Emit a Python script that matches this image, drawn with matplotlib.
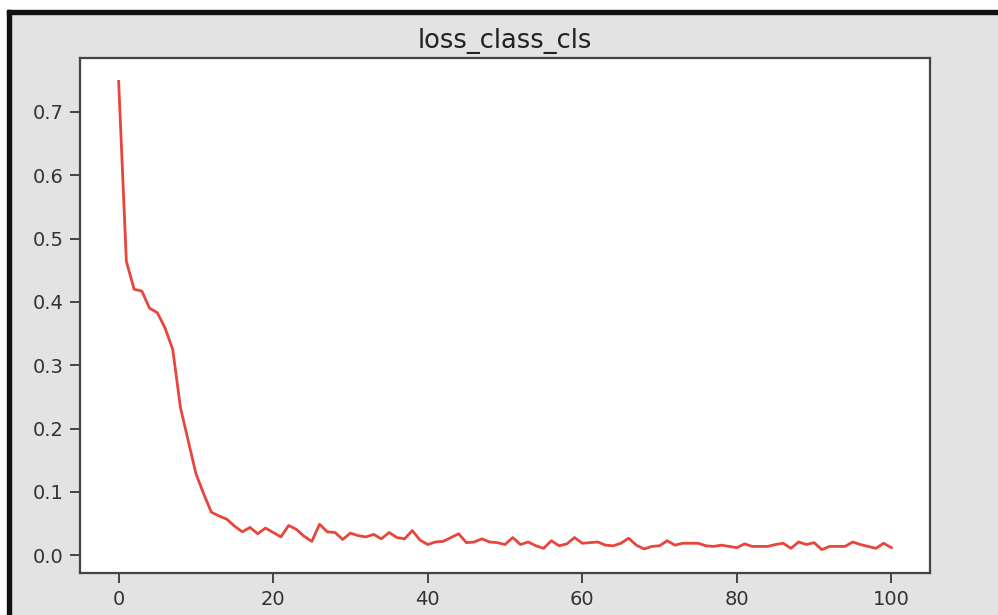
import numpy as np
import matplotlib
matplotlib.use("Agg")
import matplotlib.pyplot as plt
from matplotlib.patches import Rectangle

# loss values per epoch
loss_class_cls = [
    0.748, 0.464, 0.420, 0.417, 0.390, 0.383, 0.359, 0.325, 0.233, 0.181,
    0.129, 0.097, 0.068, 0.062, 0.057, 0.046, 0.037, 0.044, 0.034, 0.043,
    0.036, 0.029, 0.047, 0.041, 0.030, 0.022, 0.049, 0.037, 0.036, 0.025,
    0.035, 0.031, 0.029, 0.033, 0.026, 0.036, 0.028, 0.026, 0.039, 0.024,
    0.017, 0.021, 0.022, 0.028, 0.034, 0.020, 0.021, 0.026, 0.021, 0.020,
    0.017, 0.028, 0.017, 0.021, 0.015, 0.011, 0.023, 0.015, 0.018, 0.028,
    0.019, 0.020, 0.021, 0.016, 0.015, 0.019, 0.027, 0.016, 0.010, 0.014,
    0.015, 0.023, 0.016, 0.019, 0.019, 0.019, 0.015, 0.014, 0.016, 0.014,
    0.012, 0.018, 0.014, 0.014, 0.014, 0.017, 0.019, 0.011, 0.021, 0.017,
    0.020, 0.009, 0.014, 0.014, 0.014, 0.021, 0.017, 0.014, 0.011, 0.019,
    0.012,
]
epochs = np.arange(len(loss_class_cls))

W, H = 998, 615
fig = plt.figure(figsize=(W / 100, H / 100), dpi=100, facecolor="white")

# screenshot frame: gray canvas with black border on top and left
fig.patches.append(Rectangle((11 / W, 0), 1 - 11 / W, 1 - 14 / H,
                             transform=fig.transFigure, color="#e3e3e3", zorder=-2))
fig.patches.append(Rectangle((7 / W, 1 - 14 / H), 1 - 7 / W, 4 / H,
                             transform=fig.transFigure, color="#111111", zorder=-1))
fig.patches.append(Rectangle((7 / W, 0), 4 / W, 1 - 10 / H,
                             transform=fig.transFigure, color="#111111", zorder=-1))

ax = fig.add_axes([80 / W, 1 - 573 / H, 850 / W, 515 / H])
ax.set_facecolor("white")
ax.plot(epochs, loss_class_cls, color="#e8453c", linewidth=2.0)
ax.set_title("loss_class_cls", fontsize=18.5, color="#222222", pad=7)

ax.set_xticks([0, 20, 40, 60, 80, 100])
ax.set_yticks([0.0, 0.1, 0.2, 0.3, 0.4, 0.5, 0.6, 0.7])
ax.tick_params(labelsize=14, labelcolor="#333333", color="#444444",
               length=7, width=1.4, pad=5)
for s in ax.spines.values():
    s.set_linewidth(1.6)
    s.set_color("#444444")

fig.savefig("out.png", dpi=100, facecolor=fig.get_facecolor())
